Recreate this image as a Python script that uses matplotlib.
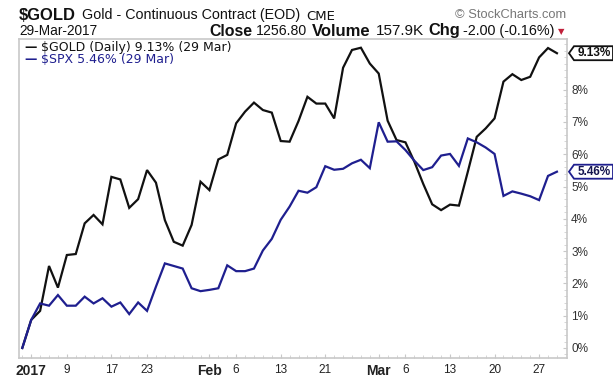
import matplotlib
matplotlib.use("Agg")
import matplotlib.pyplot as plt
import numpy as np
import pandas as pd
from matplotlib.patches import Polygon
from matplotlib.ticker import MultipleLocator, FixedLocator
from matplotlib import font_manager

# ---- data ----
dates = [pd.Timestamp("2016-12-30")] + [d for d in pd.bdate_range("2017-01-03", "2017-03-29")
                                         if d not in (pd.Timestamp("2017-01-16"), pd.Timestamp("2017-02-20"))]

gold_pct = [0.00, 0.87, 1.15, 2.54, 1.87, 2.88, 2.91, 3.86, 4.12, 3.83,
            5.30, 5.22, 4.34, 4.61, 5.51, 5.12, 3.96, 3.29, 3.17, 3.81,
            5.15, 4.89, 5.84, 5.98, 6.96, 7.32, 7.60, 7.37, 7.29, 6.41,
            6.39, 7.03, 7.78, 7.57, 7.57, 7.11, 8.68, 9.23, 9.30, 8.81,
            8.50, 7.04, 6.44, 6.37, 5.77, 5.08, 4.45, 4.27, 4.44, 4.41,
            5.46, 6.54, 6.80, 7.11, 8.25, 8.48, 8.30, 8.40, 9.00, 9.29,
            9.13]

spx_pct = [0.00, 0.87, 1.38, 1.31, 1.64, 1.31, 1.31, 1.59, 1.38, 1.54,
           1.28, 1.41, 1.05, 1.41, 1.15, 1.90, 2.62, 2.54, 2.46, 1.85,
           1.76, 1.80, 1.85, 2.56, 2.38, 2.38, 2.46, 3.02, 3.38, 3.97,
           4.38, 4.87, 4.81, 4.98, 5.63, 5.52, 5.55, 5.72, 5.83, 5.57,
           6.99, 6.39, 6.40, 6.13, 5.80, 5.51, 5.60, 5.96, 6.01, 5.64,
           6.49, 6.37, 6.21, 6.01, 4.71, 4.85, 4.78, 4.70, 4.58, 5.33,
           5.46]

tick_dates = ["2017-01-03", "2017-01-09", "2017-01-17", "2017-01-23", "2017-02-01",
              "2017-02-06", "2017-02-13", "2017-02-21", "2017-03-01", "2017-03-06",
              "2017-03-13", "2017-03-20", "2017-03-27"]
tick_labels = ["2017", "9", "17", "23", "Feb", "6", "13", "21", "Mar", "6", "13", "20", "27"]
bold_labels = {"2017", "Feb", "Mar"}

y_ticks = [0, 1, 2, 3, 4, 5, 6, 7, 8]

gold_color = "#111111"
spx_color = "#1f1f8f"

def has_font(name):
    try:
        font_manager.findfont(font_manager.FontProperties(family=name), fallback_to_default=False)
        return True
    except Exception:
        return False

narrow = ["Liberation Sans Narrow", "Liberation Sans"] if has_font("Liberation Sans Narrow") else ["Liberation Sans"]

# ---- figure ----
W, H = 613, 379
fig = plt.figure(figsize=(W / 100, H / 100), dpi=100)
fig.patch.set_facecolor("white")

ax_l, ax_r, ax_t, ax_b = 19, 567, 39, 358
ax = fig.add_axes([ax_l / W, 1 - ax_b / H, (ax_r - ax_l) / W, (ax_b - ax_t) / H])

x = np.arange(len(dates))
ax.plot(x, gold_pct, color=gold_color, lw=1.6, solid_joinstyle="miter")
ax.plot(x, spx_pct, color=spx_color, lw=1.6, solid_joinstyle="miter")

ax.set_xlim(-0.37, 61.13)
ax.set_ylim(-0.31, 9.57)

for s in ax.spines.values():
    s.set_color("#c8c8c8")
    s.set_linewidth(1.2)

# x ticks
date_index = {d.strftime("%Y-%m-%d"): i for i, d in enumerate(dates)}
tpos = [date_index[d] for d in tick_dates]
ax.xaxis.set_major_locator(FixedLocator(tpos))
ax.set_xticklabels(tick_labels)
ax.xaxis.set_minor_locator(FixedLocator(list(x)))
ax.tick_params(axis="x", which="major", direction="in", length=3, color="#c8c8c8",
               pad=4, labelsize=8.5, labelcolor="#222222")
ax.tick_params(axis="x", which="minor", direction="in", length=2, color="#d0d0d0")
for lab in ax.get_xticklabels():
    lab.set_fontfamily("Liberation Sans")
    if lab.get_text() in bold_labels:
        lab.set_fontweight("bold")
        lab.set_fontsize(10)

# y ticks on right
ax.yaxis.tick_right()
ax.yaxis.set_major_locator(FixedLocator(y_ticks))
ax.set_yticklabels([f"{v}%" for v in y_ticks])
ax.yaxis.set_minor_locator(MultipleLocator(0.2))
ax.tick_params(axis="y", which="major", direction="in", length=3, color="#c8c8c8",
               pad=3, labelsize=8.5, labelcolor="#333333")
ax.tick_params(axis="y", which="minor", direction="in", length=2, color="#d0d0d0")
for lab in ax.get_yticklabels():
    lab.set_fontfamily("Liberation Sans")

# legend (text inside the plot)
leg_fs = 9
fig.text(24 / W, 1 - 47 / H, "\u2014", color=gold_color, fontsize=leg_fs, fontweight="bold",
         va="center", ha="left", family="DejaVu Sans")
fig.text(41 / W, 1 - 47 / H, "$GOLD (Daily) 9.13% (29 Mar)", color=gold_color, fontsize=leg_fs,
         va="center", ha="left", family="DejaVu Sans")
fig.text(24 / W, 1 - 59.5 / H, "\u2014", color=spx_color, fontsize=leg_fs, fontweight="bold",
         va="center", ha="left", family="DejaVu Sans")
fig.text(41 / W, 1 - 59.5 / H, "$SPX 5.46% (29 Mar)", color=spx_color, fontsize=leg_fs,
         va="center", ha="left", family="DejaVu Sans")

# header: each piece fitted to its span [x0, x1] in pixels
fig.canvas.draw()
renderer = fig.canvas.get_renderer()

def fit_text(s, x0, x1, yc, family, weight="normal", color="#111111"):
    t = fig.text(x0 / W, 1 - yc / H, s, fontsize=10, family=family, fontweight=weight,
                 va="center", ha="left", color=color)
    w = t.get_window_extent(renderer).width
    t.set_fontsize(10 * (x1 - x0) / w)
    return t

fit_text("$GOLD", 19, 76, 15, narrow, "bold")
fit_text("Gold - Continuous Contract (EOD)", 82, 300, 15.5, narrow)
fit_text("CME", 306, 335, 16, ["DejaVu Sans"])
fit_text("\u00a9 StockCharts.com", 455, 567, 15.5, ["Liberation Sans"], color="#777777")

fit_text("29-Mar-2017", 19, 97, 31, ["Liberation Sans"])
fit_text("Close", 209, 252, 31, ["Liberation Sans"], "bold")
fit_text("1256.80", 256, 307, 31, ["Liberation Sans"])
fit_text("Volume", 312, 371, 31, ["Liberation Sans"], "bold")
fit_text("157.9K", 376, 424, 31, ["Liberation Sans"])
fit_text("Chg", 428, 460, 31, ["Liberation Sans"], "bold")
fit_text("-2.00 (-0.16%)", 463, 555, 31, ["Liberation Sans"])
fig.text(561 / W, 1 - 31.5 / H, "\u25bc", fontsize=6, family="DejaVu Sans",
         va="center", ha="center", color="#c0203a")

# value markers at right axis
def marker(val, color, txtcolor):
    _, ypx = ax.transData.transform((0, val))
    x0 = ax_r + 2
    h = 7
    pts = [(x0, ypx), (x0 + 5, ypx + h), (x0 + 44, ypx + h), (x0 + 44, ypx - h), (x0 + 5, ypx - h)]
    poly = Polygon(pts, closed=True, transform=None, facecolor="white", edgecolor=color,
                   lw=1.3, zorder=10, clip_on=False)
    fig.patches.append(poly)
    fig.text((x0 + 25) / W, ypx / H, f"{val:.2f}%", fontsize=8.5, fontweight="bold",
             family="Liberation Sans", color=txtcolor, va="center", ha="center", zorder=11)

marker(gold_pct[-1], "#111111", "#111111")
marker(spx_pct[-1], spx_color, "#15154f")

fig.savefig("out.png", dpi=100)
